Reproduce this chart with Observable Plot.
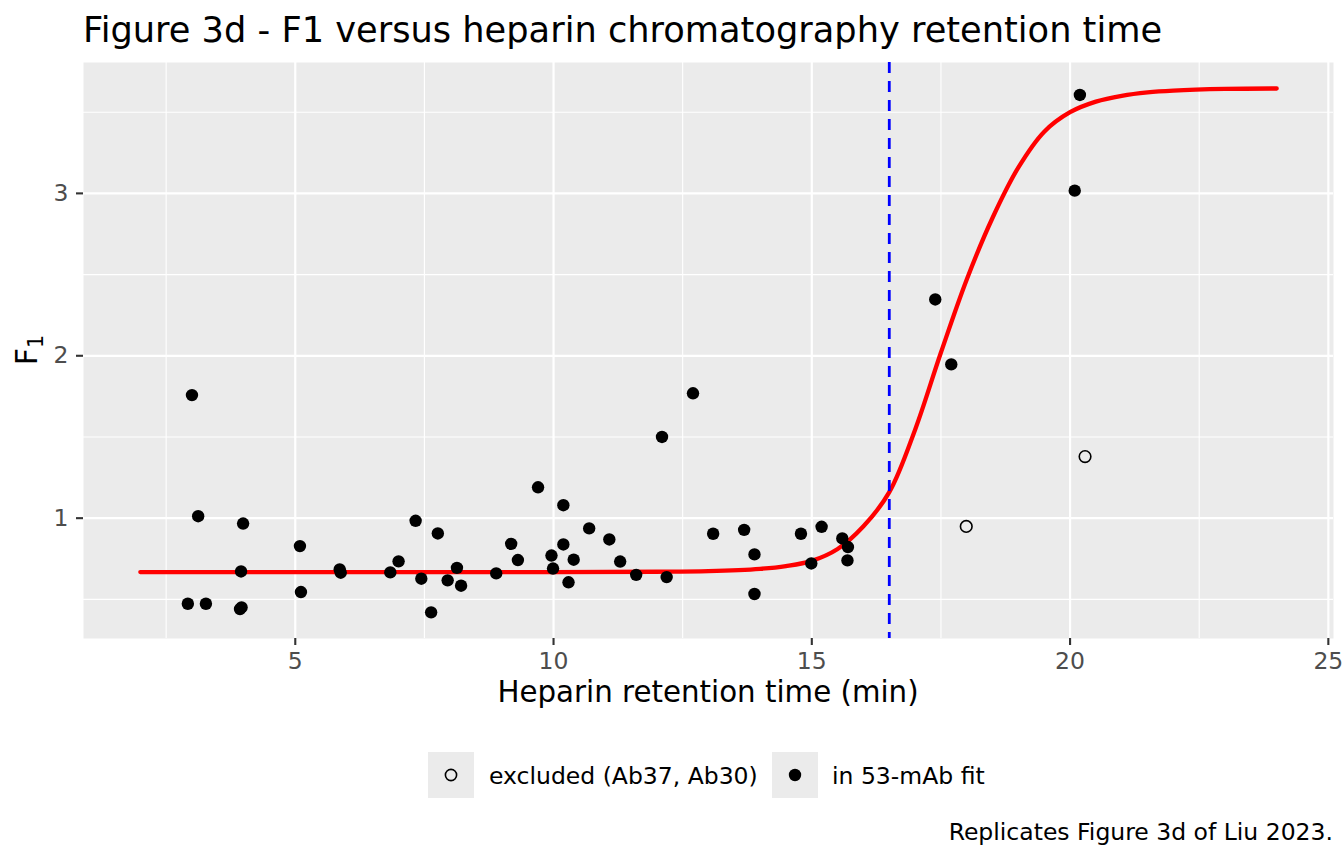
<!DOCTYPE html>
<html>
<head>
<meta charset="utf-8">
<script src="https://cdn.jsdelivr.net/npm/d3@7"></script>
<script src="https://cdn.jsdelivr.net/npm/@observablehq/plot@0.6"></script>
<style>
  html, body { margin: 0; padding: 0; background: #ffffff; }
  #wrap { position: relative; width: 1344px; height: 864px; overflow: hidden; }
  #chart { position: absolute; left: 0; top: 0; }
  #overlay { position: absolute; left: 0; top: 0; pointer-events: none; }
  #overlay text { font-family: "DejaVu Sans", sans-serif; }
</style>
</head>
<body>
<div id="wrap">
  <div id="chart"></div>
  <svg id="overlay" width="1344" height="864" xmlns="http://www.w3.org/2000/svg">
    <text x="83" y="41.7" font-size="35.2" fill="#000">Figure 3d - F1 versus heparin chromatography retention time</text>
    <text x="708" y="701.5" font-size="29.3" fill="#000" text-anchor="middle">Heparin retention time (min)</text>
    <text transform="translate(36.5,350) rotate(-90)" font-size="29.3" fill="#000" text-anchor="middle">F<tspan font-size="20.5" dy="6">1</tspan></text>
    <rect x="428" y="752" width="46" height="46" fill="#EBEBEB"/>
    <circle cx="451" cy="775" r="5.6" fill="none" stroke="#000" stroke-width="1.6"/>
    <text x="489" y="784" font-size="23.5" fill="#000">excluded (Ab37, Ab30)</text>
    <rect x="772" y="752" width="46" height="46" fill="#EBEBEB"/>
    <circle cx="795" cy="775" r="6.2" fill="#000"/>
    <text x="832" y="784" font-size="23.5" fill="#000">in 53-mAb fit</text>
    <text x="1333" y="840" font-size="23.5" fill="#000" text-anchor="end">Replicates Figure 3d of Liu 2023.</text>
  </svg>
</div>
<script>
// ---- data ----
const fitX = [2.92, 3.00, 3.12, 3.27, 3.93, 3.96, 3.95, 3.99, 5.09, 5.11,
              5.86, 5.88, 6.84, 7.00, 7.33, 7.44, 7.63, 7.76, 7.95, 8.13,
              8.21, 8.89, 9.18, 9.31, 9.70, 9.96, 9.99, 10.19, 10.19, 10.29,
              10.39, 10.69, 11.08, 11.29, 11.60, 12.10, 12.19, 12.70, 13.09, 13.69,
              13.89, 13.89, 14.79, 14.99, 15.19, 15.59, 15.70, 15.69, 17.39, 17.70,
              20.09, 20.19];
const fitY = [0.473, 1.758, 1.012, 0.473, 0.440, 0.450, 0.672, 0.967, 0.828, 0.545,
              0.684, 0.664, 0.666, 0.734, 0.984, 0.627, 0.420, 0.906, 0.617, 0.694,
              0.584, 0.660, 0.842, 0.742, 1.190, 0.770, 0.690, 1.080, 0.838, 0.605,
              0.744, 0.937, 0.869, 0.733, 0.651, 1.500, 0.637, 1.769, 0.904, 0.928,
              0.777, 0.533, 0.904, 0.721, 0.947, 0.875, 0.822, 0.740, 2.347, 1.947,
              3.017, 3.606];
const excludedX = [17.99, 20.29];
const excludedY = [0.949, 1.379];

// fitted sigmoid curve
const curveX = [2, 6, 10, 12, 13, 14, 14.5, 15, 15.5, 16, 16.5, 17, 17.5, 18, 18.5,
                19, 19.5, 20, 20.5, 21, 21.5, 22, 23, 24];
const curveY = [0.668, 0.668, 0.668, 0.670, 0.674, 0.688, 0.705, 0.737, 0.810, 0.950,
                1.160, 1.545, 2.020, 2.470, 2.850, 3.160, 3.380, 3.500, 3.565, 3.601,
                3.622, 3.633, 3.643, 3.646];

const cutoffX = [16.5];

const xMajor = [5, 10, 15, 20, 25];
const xMinor = [2.5, 7.5, 12.5, 17.5, 22.5];
const yMajor = [1, 2, 3];
const yMinor = [0.5, 1.5, 2.5, 3.5];

const fit = fitX.map((x, i) => ({x, y: fitY[i]}));
const excluded = excludedX.map((x, i) => ({x, y: excludedY[i]}));
const curve = curveX.map((x, i) => ({x, y: curveY[i]}));

const chart = Plot.plot({
  width: 1344,
  height: 864,
  marginLeft: 83,
  marginRight: 11,
  marginTop: 62,
  marginBottom: 226,
  style: {fontFamily: "DejaVu Sans, sans-serif", background: "transparent", overflow: "visible"},
  x: {domain: [0.9, 25.1]},
  y: {domain: [0.259, 3.806]},
  marks: [
    Plot.frame({fill: "#EBEBEB", stroke: "none"}),
    Plot.ruleX(xMinor, {stroke: "#ffffff", strokeWidth: 1.1}),
    Plot.ruleY(yMinor, {stroke: "#ffffff", strokeWidth: 1.1}),
    Plot.ruleX(xMajor, {stroke: "#ffffff", strokeWidth: 2.2}),
    Plot.ruleY(yMajor, {stroke: "#ffffff", strokeWidth: 2.2}),
    Plot.line(curve, {x: "x", y: "y", stroke: "#FF0000", strokeWidth: 4.3, curve: "catmull-rom"}),
    Plot.ruleX(cutoffX, {stroke: "#0000FF", strokeWidth: 2.8, strokeDasharray: "11,8"}),
    Plot.dot(fit, {x: "x", y: "y", r: 6.2, fill: "#000000", stroke: "none"}),
    Plot.dot(excluded, {x: "x", y: "y", r: 5.8, fill: "none", stroke: "#000000", strokeWidth: 1.6}),
    Plot.axisX({ticks: xMajor, tickSize: 7, tickPadding: 7, fontSize: 23.5, tickFormat: d => String(d),
                stroke: "#333333", strokeWidth: 2.1, fill: "#4D4D4D", label: null}),
    Plot.axisY({ticks: yMajor, tickSize: 7, tickPadding: 8, fontSize: 23.5, tickFormat: d => String(d),
                stroke: "#333333", strokeWidth: 2.1, fill: "#4D4D4D", label: null})
  ]
});
document.getElementById("chart").appendChild(chart);
</script>
</body>
</html>
